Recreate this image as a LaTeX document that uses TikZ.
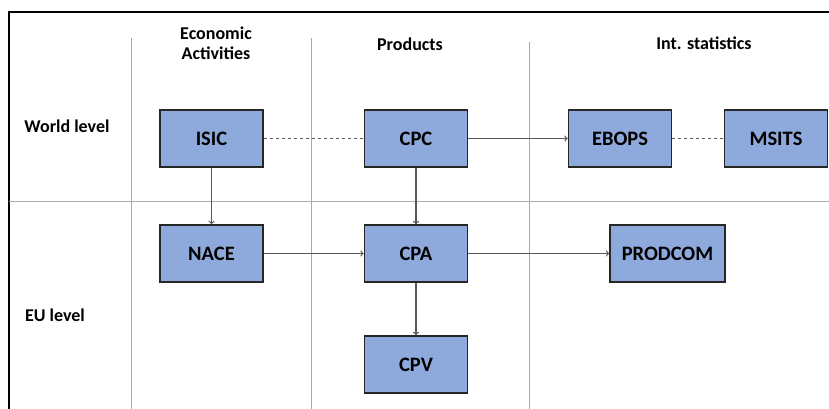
\documentclass[tikz,border=0pt]{standalone}
\usepackage{fontspec}
\setmainfont{Carlito}
\definecolor{boxblue}{RGB}{142,169,219}
\definecolor{edgegray}{RGB}{89,89,89}
\definecolor{rulegray}{RGB}{170,170,170}
\tikzset{
  cls/.style={draw=black!85,line width=1.6pt,fill=boxblue,minimum width=103pt,minimum height=57pt,
    font=\fontsize{20.5}{24}\selectfont\bfseries},
  head/.style={font=\fontsize{18}{22}\selectfont\bfseries,align=center},
  link/.style={draw=edgegray,line width=1.2pt},
}
\begin{document}
\begin{tikzpicture}[x=1pt,y=-1pt,>=to]
		\useasboundingbox (0,0) rectangle (829,409);
		% frame and grid
		\draw[line width=1.3pt] (9,409) -- (9,12) -- (829,12);
		\draw[rulegray,line width=0.9pt] (131,38) -- (131,409);
		\draw[rulegray,line width=0.9pt] (311,38) -- (311,409);
		\draw[rulegray,line width=0.9pt] (529,42) -- (529,409);
		\draw[rulegray,line width=0.9pt] (9,201) -- (829,201);
		% headings
		\node[head] (ecohead) at (216,43) {Economic\\[-2pt]Activities};
		\node[head] (prodhead) at (410,44) {Products};
		\node[head] (inthead) at (704,43) {Int. statistics};
		\node[head] (world) at (67,126) {World level};
		\node[head] (eu) at (55,315) {EU level};
		% classifications
		\node[cls] (isic) at (211.5,138.5) {ISIC};
		\node[cls] (cpc) at (416,138.5) {CPC};
		\node[cls] (ebops) at (620,138.5) {EBOPS};
		\node[cls] (msits) at (776,138.5) {MSITS};
		\node[cls] (nace) at (211.5,253.5) {NACE};
		\node[cls] (cpa) at (416,253.5) {CPA};
		\node[cls,minimum width=115pt] (prodcom) at (667.5,253.5) {PRODCOM};
		\node[cls] (cpv) at (416,364.5) {CPV};
		\draw[link,dashed] (isic) -- (cpc);
		\draw[link,dashed] (ebops) -- (msits);
		\draw[link,->] (cpc) -- (ebops);
		\draw[link,->] (isic) -- (nace);
		\draw[link,->] (cpc) -- (cpa);
		\draw[link,->] (nace) -- (cpa);
		\draw[link,->] (cpa) -- (prodcom);
		\draw[link,->] (cpa) -- (cpv);
	\end{tikzpicture}
\end{document}
